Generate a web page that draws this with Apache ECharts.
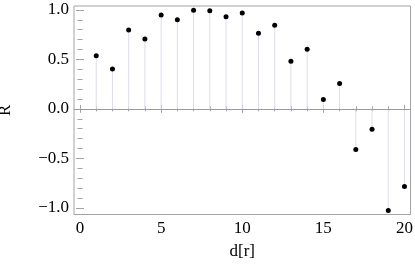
<!DOCTYPE html>
<html>
<head>
<meta charset="utf-8">
<script src="https://cdn.jsdelivr.net/npm/echarts@6/dist/echarts.min.js"></script>
<style>html,body{margin:0;padding:0;background:#fff;}#c{width:415px;height:269px;}</style>
</head>
<body>
<div id="c"></div>
<script>
// Data
const dValues = [1,2,3,4,5,6,7,8,9,10,11,12,13,14,15,16,17,18,19,20];
const rValues = [0.538,0.404,0.798,0.707,0.949,0.902,0.997,0.993,0.932,0.970,0.765,0.845,0.482,0.603,0.094,0.256,-0.411,-0.205,-1.027,-0.785];
const xMajorTicks = [0,5,10,15,20];
const xMinorTicks = [1,2,3,4,6,7,8,9,11,12,13,14,16,17,18,19];
const yMajorTicks = [-1.0,-0.5,0.0,0.5,1.0];
const yMinorTicks = [-0.9,-0.8,-0.7,-0.6,-0.4,-0.3,-0.2,-0.1,0.1,0.2,0.3,0.4,0.6,0.7,0.8,0.9];
const xLabel = 'd[r]';
const yLabel = 'R';

const X_MIN = -0.37, X_MAX = 20.37, Y_MIN = -1.068, Y_MAX = 1.04;
const frameColor = '#a3a3a3';
const font = 'Liberation Serif';

function xAxisDef(pos, vals, len, labels, extra) {
  return Object.assign({
    type: 'value', position: pos, min: X_MIN, max: X_MAX,
    axisLine: { show: false },
    splitLine: { show: false },
    axisTick: { show: true, inside: true, length: len, customValues: vals, lineStyle: { color: frameColor, width: 1 } },
    axisLabel: labels ? {
      show: true, customValues: vals, margin: 6, color: '#000',
      fontFamily: font, fontSize: 17, formatter: v => String(Math.round(v))
    } : { show: false }
  }, extra || {});
}
function yAxisDef(pos, vals, len, labels, extra) {
  return Object.assign({
    type: 'value', position: pos, min: Y_MIN, max: Y_MAX,
    axisLine: { show: false },
    splitLine: { show: false },
    axisTick: { show: true, inside: true, length: len, customValues: vals, lineStyle: { color: frameColor, width: 1 } },
    axisLabel: labels ? {
      show: true, customValues: vals, margin: 5, color: '#000',
      fontFamily: font, fontSize: 17,
      formatter: v => (v < -1e-9 ? '\u2212' : '') + Math.abs(v).toFixed(1)
    } : { show: false }
  }, extra || {});
}

const chart = echarts.init(document.getElementById('c'), null, { renderer: 'canvas' });
chart.setOption({
  animation: false,
  backgroundColor: '#fff',
  grid: { left: 74, right: 4.5, top: 6, bottom: 54.5, outerBoundsMode: 'none', containLabel: false, show: true, borderColor: frameColor, borderWidth: 1, backgroundColor: 'transparent' },
  xAxis: [
    xAxisDef('bottom', xMajorTicks, 4, true, {
      name: xLabel, nameLocation: 'middle', nameGap: 29,
      nameTextStyle: { fontFamily: font, fontSize: 17, color: '#000' }
    }),
    xAxisDef('bottom', xMinorTicks, 2.5, false),
    xAxisDef('top', xMajorTicks, 4, false),
    xAxisDef('top', xMinorTicks, 2.5, false)
  ],
  yAxis: [
    yAxisDef('left', yMajorTicks, 4, true, {
      name: yLabel, nameLocation: 'middle', nameGap: 60, nameRotate: 90,
      nameTextStyle: { fontFamily: font, fontSize: 17, color: '#000' }
    }),
    yAxisDef('left', yMinorTicks, 2.5, false),
    yAxisDef('right', yMajorTicks, 4, false),
    yAxisDef('right', yMinorTicks, 2.5, false)
  ],
  series: [
    {
      type: 'custom',
      xAxisIndex: 0, yAxisIndex: 0,
      data: dValues.map((d, i) => [d, rValues[i]]),
      renderItem: function (params, api) {
        const p0 = api.coord([api.value(0), 0]);
        const p1 = api.coord([api.value(0), api.value(1)]);
        return {
          type: 'line',
          shape: { x1: p0[0], y1: p0[1], x2: p1[0], y2: p1[1] },
          style: { stroke: '#dcdcef', lineWidth: 1 }
        };
      },
      silent: true,
      z: 1
    },
    {
      type: 'scatter',
      xAxisIndex: 0, yAxisIndex: 0,
      data: dValues.map((d, i) => [d, rValues[i]]),
      symbol: 'circle', symbolSize: 5,
      itemStyle: { color: '#000', opacity: 1 },
      silent: true,
      z: 3,
      markLine: {
        silent: true, symbol: ['none', 'none'],
        label: { show: false },
        lineStyle: { color: '#9a9a9a', width: 1, type: 'solid', opacity: 1 },
        data: [{ yAxis: 0 }]
      }
    }
  ]
});
</script>
</body>
</html>
